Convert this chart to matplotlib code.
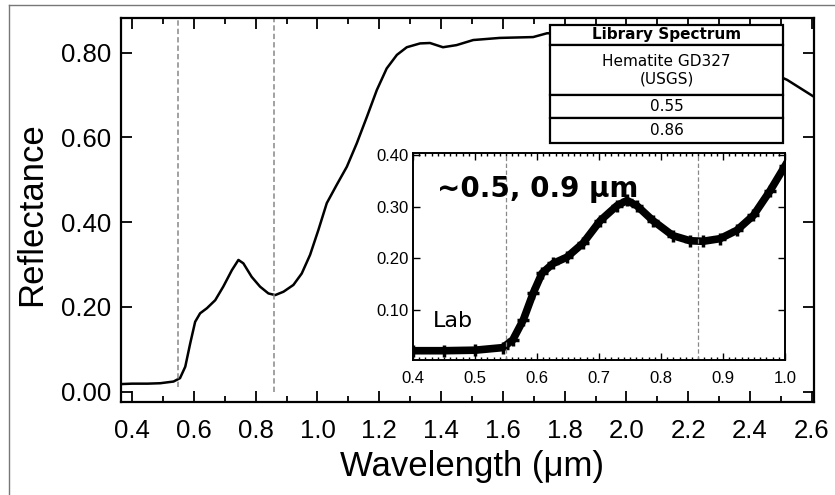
import matplotlib.pyplot as plt
import matplotlib.ticker as mticker
from matplotlib.lines import Line2D

# Main spectrum
wavelength = [0.364, 0.40, 0.45, 0.491, 0.534, 0.555, 0.572, 0.588, 0.604, 0.620, 0.642,
              0.669, 0.695, 0.723, 0.744, 0.760, 0.787, 0.814, 0.841, 0.863, 0.890,
              0.922, 0.949, 0.976, 1.003, 1.030, 1.062, 1.095, 1.127, 1.160, 1.192,
              1.224, 1.257, 1.289, 1.332, 1.364, 1.406, 1.45, 1.504, 1.59, 1.698,
              1.743, 1.80, 1.90, 2.00, 2.10, 2.20, 2.30, 2.40, 2.52, 2.607]
reflectance = [0.018, 0.019, 0.019, 0.020, 0.024, 0.032, 0.059, 0.114, 0.165, 0.185, 0.197,
               0.216, 0.248, 0.287, 0.311, 0.303, 0.271, 0.248, 0.232, 0.228, 0.236,
               0.252, 0.279, 0.323, 0.382, 0.445, 0.488, 0.531, 0.586, 0.649, 0.712,
               0.763, 0.795, 0.813, 0.822, 0.823, 0.813, 0.818, 0.830, 0.835, 0.837,
               0.846, 0.845, 0.842, 0.840, 0.835, 0.825, 0.800, 0.775, 0.736, 0.696]

# Lab spectrum in the inset
lab_wl = [0.40, 0.45, 0.50, 0.545, 0.561, 0.578, 0.594, 0.608, 0.626, 0.648, 0.674, 0.702,
          0.729, 0.745, 0.761, 0.787, 0.819, 0.847, 0.868, 0.895, 0.922, 0.949, 0.976, 1.0]
lab_refl = [0.021, 0.021, 0.022, 0.027, 0.042, 0.081, 0.133, 0.171, 0.190, 0.202, 0.229, 0.273,
            0.302, 0.312, 0.302, 0.273, 0.244, 0.234, 0.233, 0.238, 0.254, 0.283, 0.331, 0.379]

band_centers = [0.55, 0.86]
table_rows = ['Library Spectrum', 'Hematite GD327\n(USGS)', '0.55', '0.86']

W, H = 835, 495
fig = plt.figure(figsize=(W / 100, H / 100), dpi=100)

# thin grey frame of the original screenshot (top and left edges only)
fig.add_artist(Line2D([9 / W, 9 / W], [0, 1 - 5 / H], color='#777777', lw=1))
fig.add_artist(Line2D([9 / W, 1], [1 - 5 / H, 1 - 5 / H], color='#777777', lw=1))

ax = fig.add_axes([121 / W, 1 - 402 / H, 693 / W, 384 / H])
ax.plot(wavelength, reflectance, color='black', lw=1.8)
ax.axvline(band_centers[0], ymin=0.04, ymax=1, color='#888888', lw=1.1, ls=(0, (3.5, 2)))
ax.axvline(band_centers[1], ymin=0.025, ymax=1, color='#888888', lw=1.1, ls=(0, (3.5, 2)))
ax.set_xlim(0.364, 2.607)
ax.set_ylim(-0.0243, 0.882)

mfont = 'Liberation Sans'
ax.xaxis.set_major_locator(mticker.MultipleLocator(0.2))
ax.xaxis.set_minor_locator(mticker.MultipleLocator(0.1))
ax.xaxis.set_major_formatter(mticker.FormatStrFormatter('%.1f'))
ax.yaxis.set_major_locator(mticker.MultipleLocator(0.2))
ax.yaxis.set_major_formatter(mticker.FormatStrFormatter('%.2f'))
ax.tick_params(which='both', direction='in', top=True, right=True, width=1.3)
ax.tick_params(which='major', length=8)
ax.tick_params(which='minor', length=4)
ax.tick_params(axis='x', which='major', pad=12, labelsize=18.5)
ax.tick_params(axis='y', which='major', pad=7, labelsize=18.5)
for lab in ax.get_xticklabels() + ax.get_yticklabels():
    lab.set_fontfamily(mfont)
for s in ax.spines.values():
    s.set_linewidth(1.6)

ax.set_xlabel('Wavelength (\u03bcm)', fontsize=25, family=mfont)
ax.set_ylabel('Reflectance', fontsize=25, family=mfont)
ax.xaxis.set_label_coords(0.506, -0.125)
ax.yaxis.set_label_coords(-0.105, 0.49)

# Library spectrum table
tab = ax.table(cellText=[[r] for r in table_rows], cellLoc='center',
               bbox=[(550 - 121) / 693, (402 - 143) / 384, 233 / 693, 118 / 384])
tab.auto_set_font_size(False)
row_h = [20, 50, 23, 25]
for i, h in enumerate(row_h):
    c = tab[i, 0]
    c.set_height(h)
    c.set_linewidth(1.6)
    c.set_facecolor('white')
    c.get_text().set_fontsize(11)
    c.get_text().set_fontfamily('DejaVu Sans')
tab[0, 0].get_text().set_fontweight('bold')
tab.set_zorder(5)

# Inset
ins = fig.add_axes([413 / W, 1 - 360 / H, 372 / W, 207 / H])
ins.plot(lab_wl, lab_refl, color='black', lw=5.5, marker='+', ms=9, mew=2.5)
for b in band_centers:
    ins.axvline(b, color='#888888', lw=0.9, ls=(0, (3.5, 2)))
ins.set_xlim(0.4, 1.0)
ins.set_ylim(0.003, 0.404)
ins.xaxis.set_major_locator(mticker.MultipleLocator(0.1))
ins.xaxis.set_minor_locator(mticker.MultipleLocator(0.01))
ins.xaxis.set_major_formatter(mticker.FormatStrFormatter('%.1f'))
ins.set_yticks([0.10, 0.20, 0.30, 0.40])
ins.yaxis.set_major_formatter(mticker.FormatStrFormatter('%.2f'))
ins.tick_params(which='both', direction='in', top=True, right=True, width=1)
ins.tick_params(which='major', length=5)
ins.tick_params(which='minor', length=2.5)
ins.tick_params(axis='x', pad=8, labelsize=12)
ins.tick_params(axis='y', pad=3, labelsize=12)
for lab in ins.get_xticklabels() + ins.get_yticklabels():
    lab.set_fontfamily(mfont)
for s in ins.spines.values():
    s.set_linewidth(1.4)

ins.text(0.065, 0.787, '~0.5, 0.9 \u03bcm', transform=ins.transAxes, fontsize=20,
         fontweight='bold', family='DejaVu Sans', va='baseline', ha='left')
ins.text(0.054, 0.16, 'Lab', transform=ins.transAxes, fontsize=16,
         family='DejaVu Sans', va='baseline', ha='left')

fig.savefig('out.png', dpi=100)
